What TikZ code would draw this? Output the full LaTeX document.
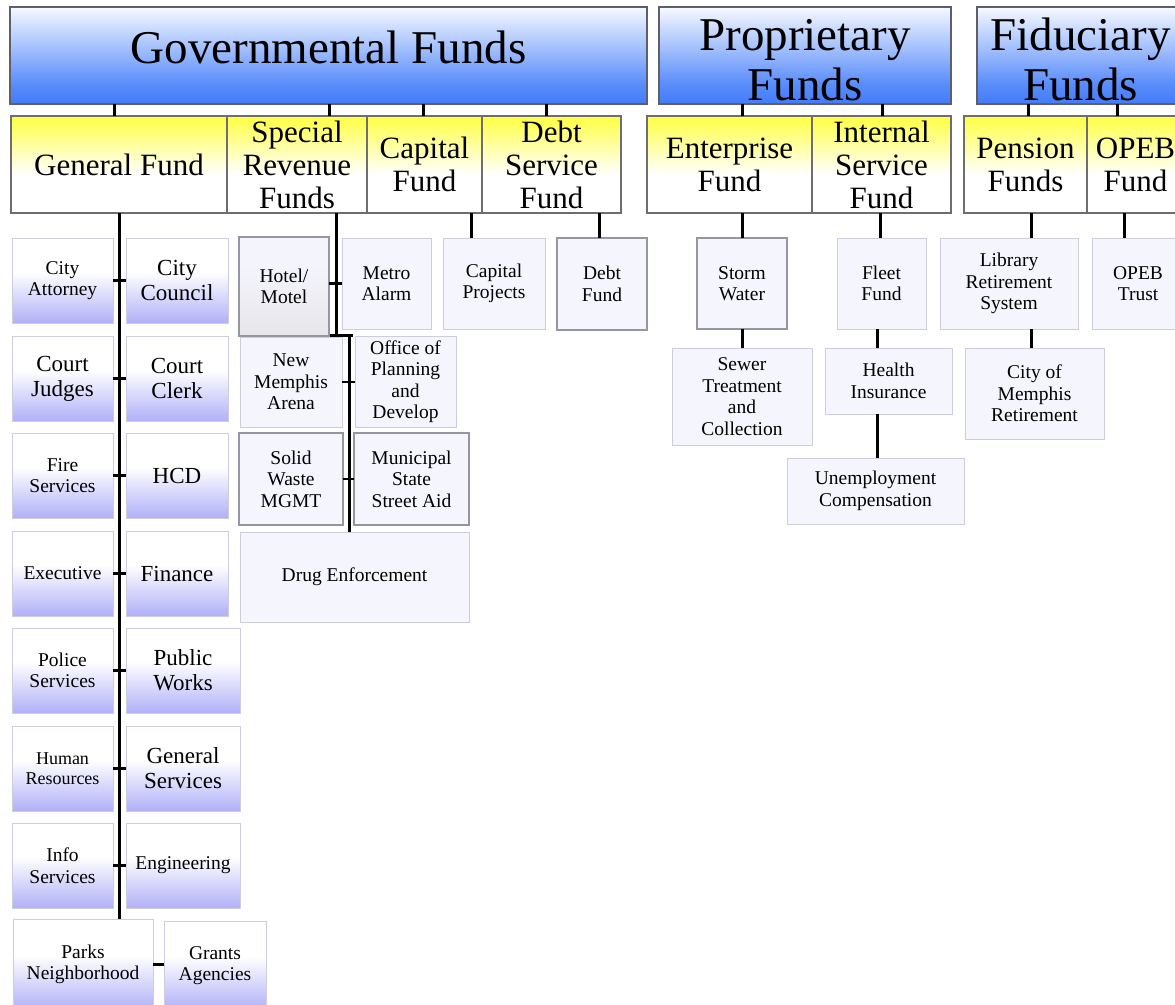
\documentclass[tikz,border=0pt]{standalone}
\usepackage{fontspec}
\setmainfont{Liberation Serif}
\definecolor{hblue}{RGB}{66,124,250}
\definecolor{hlight}{RGB}{246,249,255}
\definecolor{yel}{RGB}{255,255,66}
\definecolor{lav}{RGB}{176,176,248}
\definecolor{pale}{RGB}{245,245,253}
\definecolor{bord}{RGB}{205,205,222}
\definecolor{dbord}{RGB}{150,150,160}
\definecolor{hbord}{RGB}{95,95,105}
\definecolor{sbord}{RGB}{110,110,110}
\definecolor{hmtop}{RGB}{244,244,252}
\definecolor{hmbot}{RGB}{230,230,234}
\pgfdeclareverticalshading{hdrsh}{100bp}{color(0bp)=(hblue); color(25bp)=(hblue); color(35bp)=(hblue!88!white); color(75bp)=(hlight); color(100bp)=(hlight)}
\pgfdeclareverticalshading{yelsh}{100bp}{color(0bp)=(white); color(25bp)=(white); color(45bp)=(white); color(75bp)=(yel); color(100bp)=(yel)}
\pgfdeclareverticalshading{lavsh}{100bp}{color(0bp)=(lav); color(25bp)=(lav); color(55bp)=(white); color(100bp)=(white)}
\pgfdeclareverticalshading{hmsh}{100bp}{color(0bp)=(hmbot); color(25bp)=(hmbot); color(60bp)=(hmtop); color(100bp)=(hmtop)}
\newcommand\mkbox[7][]{\node[#1, minimum width={#4-#2}, minimum height={#5-#3}] (#6) at ({(#2+#4)/2},{(#3+#5)/2}) {#7};}
\begin{document}
\begin{tikzpicture}[x=1pt,y=-1pt,
  every node/.style={inner sep=0pt, outer sep=0pt, align=center, text=black},
  hdr/.style={draw=hbord, line width=1.3pt, shading=hdrsh, font=\fontsize{47}{50}\selectfont},
  sub/.style={draw=sbord, line width=1.3pt, shading=yelsh, font=\fontsize{31}{33}\selectfont},
  lv/.style={draw=bord, line width=1pt, shading=lavsh},
  pl/.style={draw=bord, line width=1pt, fill=pale, font=\fontsize{19.5}{21.5}\selectfont},
  dk/.style={draw=dbord, line width=1.4pt},
  fsm/.style={font=\fontsize{19.5}{21.5}\selectfont},
  flg/.style={font=\fontsize{23}{25}\selectfont},
  conn/.style={line width=3pt, draw=black},
  tickline/.style={line width=2.2pt, draw=black}]
\useasboundingbox (0,0) rectangle (1175,1004);
\fill[white] (0,0) rectangle (1175,1004);
\clip (0,0) rectangle (1175,1004);
% headers
\mkbox[hdr, text height=32pt, text depth=16pt]{10}{7}{647}{104}{gov}{Governmental Funds}
\mkbox[hdr, text height=89pt, text depth=0pt]{659}{7}{951}{104}{prop}{Proprietary\\Funds}
\mkbox[hdr, text height=89pt, text depth=0pt]{977}{7}{1184}{104}{fid}{Fiduciary\\Funds}
% second row
\mkbox[sub]{11}{116}{227}{213}{gen}{General Fund}
\mkbox[sub]{227}{116}{367}{213}{spec}{Special\\Revenue\\Funds}
\mkbox[sub]{367}{116}{482}{213}{cap}{Capital\\Fund}
\mkbox[sub]{482}{116}{621}{213}{debt}{Debt\\Service\\Fund}
\mkbox[sub]{647}{116}{812}{213}{ent}{Enterprise\\Fund}
\mkbox[sub]{812}{116}{951}{213}{int}{Internal\\Service\\Fund}
\mkbox[sub]{964}{116}{1087}{213}{pen}{Pension\\Funds}
\mkbox[sub]{1087}{116}{1184}{213}{opb}{OPEB\\Fund}
% general fund children
\mkbox[lv,fsm]{12}{238}{113}{323}{ca}{City\\Attorney}
\mkbox[lv,flg]{126}{238}{228}{323}{cc}{City\\Council}
\mkbox[lv,flg]{12}{336}{113}{421}{cj}{Court\\Judges}
\mkbox[lv,flg]{126}{336}{228}{421}{ck}{Court\\Clerk}
\mkbox[lv,fsm]{12}{433}{113}{518}{fs}{Fire\\Services}
\mkbox[lv,flg]{126}{433}{228}{518}{hcd}{HCD}
\mkbox[lv,fsm]{12}{531}{113}{616}{ex}{Executive}
\mkbox[lv,flg]{126}{531}{228}{616}{fi}{Finance}
\mkbox[lv,fsm]{12}{628}{113}{713}{ps}{Police\\Services}
\mkbox[lv,flg]{126}{628}{240}{713}{pw}{Public\\Works}
\mkbox[lv,font=\fontsize{18}{20}\selectfont]{12}{726}{113}{811}{hr}{Human\\Resources}
\mkbox[lv,flg]{126}{726}{240}{811}{gs}{General\\Services}
\mkbox[lv,fsm]{12}{823}{113}{908}{is}{Info\\Services}
\mkbox[lv,fsm]{126}{823}{240}{908}{en}{Engineering}
\mkbox[lv,fsm]{13}{919}{153}{1010}{pk}{Parks\\Neighborhood}
\mkbox[lv,fsm]{164}{921}{266}{1010}{ga}{Grants\\Agencies}
% special revenue children
\mkbox[pl,dk,shading=hmsh]{239}{237}{329}{336}{hm}{Hotel/\\Motel}
\mkbox[pl]{342}{238}{431}{329}{ma}{Metro\\Alarm}
\mkbox[pl]{240}{337}{342}{427}{nm}{New\\Memphis\\Arena}
\mkbox[pl]{355}{336}{456}{427}{op}{Office of\\Planning\\and\\Develop}
\mkbox[pl,dk]{239}{433}{343}{525}{sw}{Solid\\Waste\\MGMT}
\mkbox[pl,dk]{354}{433}{469}{525}{mu}{Municipal\\State\\Street Aid}
\mkbox[pl]{240}{532}{469}{622}{de}{Drug Enforcement}
% capital / debt
\mkbox[pl]{443}{238}{545}{329}{cp}{Capital\\Projects}
\mkbox[pl,dk]{557}{238}{647}{330}{df}{Debt\\Fund}
% proprietary
\mkbox[pl,dk]{697}{238}{787}{329}{sto}{Storm\\Water}
\mkbox[pl]{672}{348}{812}{445}{sew}{Sewer\\Treatment\\and\\Collection}
\mkbox[pl]{837}{238}{926}{329}{flt}{Fleet\\Fund}
\mkbox[pl]{825}{348}{952}{414}{hi}{Health\\Insurance}
\mkbox[pl]{787}{458}{964}{524}{un}{Unemployment\\Compensation}
% fiduciary
\mkbox[pl]{940}{238}{1078}{329}{lib}{Library\\Retirement\\System}
\mkbox[pl]{965}{348}{1104}{439}{cm}{City of\\Memphis\\Retirement}
\mkbox[pl]{1092}{238}{1184}{329}{ot}{OPEB\\Trust}
% x positions of connectors
\coordinate (xa) at (114,0);
\coordinate (xb) at (329,0);
\coordinate (xc) at (423,0);
\coordinate (xd) at (546,0);
\coordinate (xe) at (742,0);
\coordinate (xf) at (882,0);
\coordinate (xg) at (1028,0);
\coordinate (xh) at (1117,0);
\coordinate (xt) at (119,0);
\coordinate (xs) at (336,0);
\coordinate (xcp) at (471,0);
\coordinate (xdf) at (599,0);
\coordinate (xfl) at (880,0);
\coordinate (xhi) at (877,0);
\coordinate (xlb) at (1031,0);
\coordinate (xot) at (1124,0);
% header to second row
\draw[conn] (gov.south -| xa) -- (gen.north -| xa);
\draw[conn] (gov.south -| xb) -- (spec.north -| xb);
\draw[conn] (gov.south -| xc) -- (cap.north -| xc);
\draw[conn] (gov.south -| xd) -- (debt.north -| xd);
\draw[conn] (prop.south -| xe) -- (ent.north -| xe);
\draw[conn] (prop.south -| xf) -- (int.north -| xf);
\draw[conn] (fid.south -| xg) -- (pen.north -| xg);
\draw[conn] (fid.south -| xh) -- (opb.north -| xh);
% general fund trunk and ticks
\draw[conn] (gen.south -| xt) -- (pk.north -| xt);
\foreach \l/\r in {ca/cc,cj/ck,fs/hcd,ex/fi,ps/pw,hr/gs,is/en}{
  \draw[tickline] (\l.east) -- (\l.east -| \r.west);
}
\draw[conn] (pk.east) -- (pk.east -| ga.west);
% special revenue trunk
\coordinate (sj) at (336,335);
\coordinate (sjl) at (330,335);
\coordinate (sjr) at (353,335);
\coordinate (sk) at (349,335);
\draw[conn] (spec.south -| xs) -- (sj);
\draw[conn] (sjl) -- (sjr);
\draw[conn] (sk) -- (de.north -| sk);
\draw[tickline] (ma.west) -- (ma.west -| hm.east);
\draw[tickline] (nm.east) -- (nm.east -| op.west);
\draw[tickline] (sw.east) -- (sw.east -| mu.west);
% capital, debt
\draw[conn] (cap.south -| xcp) -- (cp.north -| xcp);
\draw[conn] (debt.south -| xdf) -- (df.north -| xdf);
% proprietary
\draw[conn] (ent.south -| xe) -- (sto.north -| xe);
\draw[conn] (sto.south -| xe) -- (sew.north -| xe);
\draw[conn] (int.south -| xfl) -- (flt.north -| xfl);
\draw[conn] (flt.south -| xhi) -- (hi.north -| xhi);
\draw[conn] (hi.south -| xhi) -- (un.north -| xhi);
% fiduciary
\draw[conn] (pen.south -| xlb) -- (lib.north -| xlb);
\draw[conn] (lib.south -| xlb) -- (cm.north -| xlb);
\draw[conn] (opb.south -| xot) -- (ot.north -| xot);
\end{tikzpicture}
\end{document}
